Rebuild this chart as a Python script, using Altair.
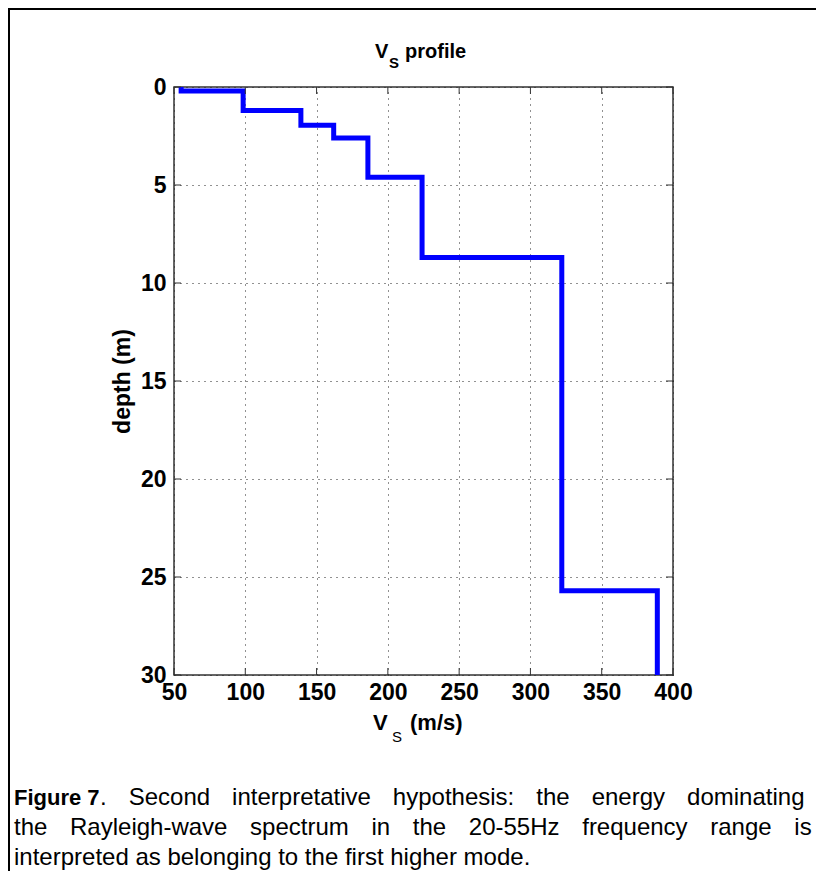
import altair as alt
import pandas as pd

# ---- data ----
vs_values = [55, 98.5, 139, 162, 186, 224, 322, 389]          # m/s
layer_tops = [0, 0.2, 1.2, 1.95, 2.6, 4.6, 8.7, 25.7]        # m
max_depth = 30
x_ticks = [50, 100, 150, 200, 250, 300, 350, 400]
y_ticks = [0, 5, 10, 15, 20, 25, 30]

caption_bold = "Figure 7"
caption_line1 = [".", "Second", "interpretative", "hypothesis:", "the", "energy", "dominating"]
caption_line2 = ["the", "Rayleigh-wave", "spectrum", "in", "the", "20-55Hz", "frequency", "range", "is"]
caption_line3 = "interpreted as belonging to the first higher mode."

FONT = "Liberation Sans"
W, H = 499, 588

bottoms = layer_tops[1:] + [max_depth]
rows = []
for i, (v, t, b) in enumerate(zip(vs_values, layer_tops, bottoms)):
    rows.append({"vs": v, "depth": t, "order": 2 * i})
    rows.append({"vs": v, "depth": b, "order": 2 * i + 1})
df = pd.DataFrame(rows)

x_scale = alt.Scale(domain=[50, 400], nice=False, zero=False)
y_scale = alt.Scale(domain=[0, 30], reverse=True, nice=False, zero=False)
x_axis = alt.Axis(values=x_ticks, grid=True, ticks=False, domain=False,
                  title=None, labelPadding=6, labelFlush=False, labelOverlap=False)
y_axis = alt.Axis(values=y_ticks, grid=True, ticks=False, domain=False,
                  title="depth (m)", labelPadding=8, titlePadding=6,
                  labelFlush=False, labelOverlap=False)

profile = alt.Chart(df).mark_line(
    color="#0000ff", strokeWidth=5, strokeCap="square", strokeJoin="miter", clip=True
).encode(
    x=alt.X("vs:Q", scale=x_scale, axis=x_axis),
    y=alt.Y("depth:Q", scale=y_scale, axis=y_axis),
    order="order:Q",
)

xt = pd.DataFrame({"vs": x_ticks})
yt = pd.DataFrame({"depth": y_ticks})
TL = 7
tick_style = dict(color="#333333", strokeWidth=1)
xb = alt.Chart(xt).mark_rule(**tick_style).encode(
    x=alt.X("vs:Q", scale=x_scale, axis=x_axis), y=alt.value(H), y2=alt.value(H - TL))
xtop = alt.Chart(xt).mark_rule(**tick_style).encode(
    x=alt.X("vs:Q", scale=x_scale, axis=x_axis), y=alt.value(0), y2=alt.value(TL))
yl = alt.Chart(yt).mark_rule(**tick_style).encode(
    y=alt.Y("depth:Q", scale=y_scale, axis=y_axis), x=alt.value(0), x2=alt.value(TL))
yr = alt.Chart(yt).mark_rule(**tick_style).encode(
    y=alt.Y("depth:Q", scale=y_scale, axis=y_axis), x=alt.value(W), x2=alt.value(W - TL))


def txt(s, x, y, size, weight="normal", align="left"):
    return alt.Chart(alt.Data(values=[{}])).mark_text(
        text=s, font=FONT, fontSize=size, fontWeight=weight, align=align,
        baseline="alphabetic", color="black"
    ).encode(x=alt.value(x), y=alt.value(y))


# non-collapsing spaces used to justify the caption lines
GAP1 = " \u2007\u200a"
GAP2 = " \u2002\u2006"

title_parts = [
    txt("V", 201, -29, 20, "bold"),
    txt("S", 215, -19, 15, "bold"),
    txt("profile", 231, -29, 20, "bold"),
]
xtitle_parts = [
    txt("V", 199, 643, 22, "bold"),
    txt("S", 218, 655, 15, "normal"),
    txt("(m/s)", 236, 643, 22, "bold"),
]
line1 = caption_line1[0] + GAP1 + GAP1.join(caption_line1[1:])
line2 = GAP2.join(caption_line2)
caption_parts = [
    txt(caption_bold, -160, 718, 22, "bold"),
    txt(line1, -74, 718, 24, "normal"),
    txt(line2, -160, 748, 24, "normal"),
    txt(caption_line3, -160, 778, 24, "normal"),
]

one = alt.Data(values=[{}])
border_left = alt.Chart(one).mark_rule(color="black", strokeWidth=2).encode(
    x=alt.value(-165), y=alt.value(-78), y2=alt.value(784))
border_top = alt.Chart(one).mark_rule(color="black", strokeWidth=2).encode(
    x=alt.value(-166), x2=alt.value(642), y=alt.value(-78))

chart = alt.layer(
    profile, xb, xtop, yl, yr, *title_parts, *xtitle_parts, *caption_parts,
    border_left, border_top
).properties(
    width=W, height=H,
    padding={"left": 166, "top": 79, "right": 143, "bottom": 196},
    autosize=alt.AutoSizeParams(type="none"),
    background="white",
).configure_view(
    stroke="#333333", strokeWidth=1.5
).configure_axis(
    labelFont=FONT, labelFontSize=23, labelFontWeight="bold", labelColor="black",
    titleFont=FONT, titleFontSize=23, titleFontWeight="bold", titleColor="black",
    gridColor="#222222", gridDash=[1, 5], gridWidth=1, gridOpacity=1,
)

chart.save("out.html", embed_options={"renderer": "svg", "actions": False})
